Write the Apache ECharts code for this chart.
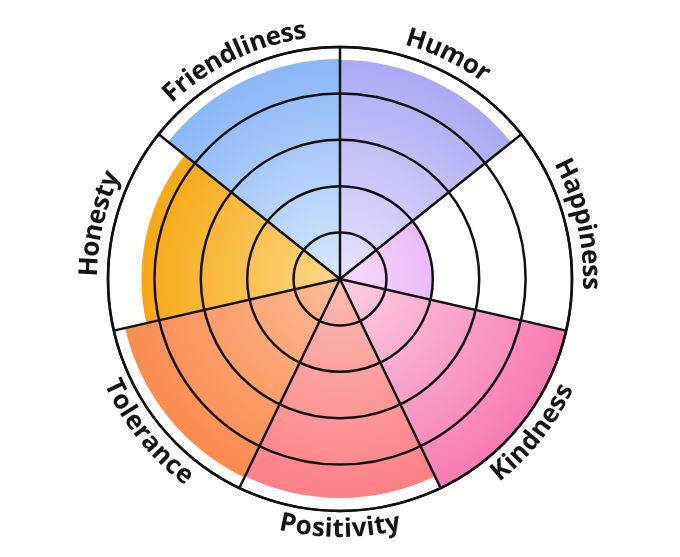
<!DOCTYPE html>
<html>
<head>
<meta charset="utf-8">
<title>Traits</title>
<script src="https://cdn.jsdelivr.net/npm/echarts@6/dist/echarts.min.js"></script>
<style>
    html, body { margin: 0; padding: 0; background: #fff; }
    #traitChart { width: 680px; height: 557px; }
</style>
</head>
<body>
<div id="traitChart"></div>
<script>
"use strict";
// categories go clockwise from 12 o'clock
var categories = ['Humor', 'Happiness', 'Kindness', 'Positivity', 'Tolerance', 'Honesty', 'Friendliness'];
var values = [4.72, 2.03, 5.0, 4.72, 4.75, 4.28, 4.74];
var ringTicks = [0, 1, 2, 3, 4, 5];
// inner / outer colour of each wedge
var innerColors = ['#e8e4fc', '#f7dcfb', '#fdd0e3', '#fcbcb2', '#fdbc96', '#fdd888', '#d9e8fc'];
var outerColors = ['#a7a5f4', '#d68af0', '#f77bb2', '#fd7c84', '#fa894a', '#f7a000', '#84b4f8'];

var cx = 340, cy = 279, outerR = 232;
var labelRadius = 5.4;

var measureCtx = document.createElement('canvas').getContext('2d');
var labelFont = 'bold 26px "Open Sans"';
measureCtx.font = labelFont;

var barData = values.map(function (v, i) {
    return {
        value: v,
        itemStyle: {
            color: new echarts.graphic.RadialGradient(cx, cy, outerR, [
                {offset: 0, color: innerColors[i]},
                {offset: 1, color: outerColors[i]}
            ], true)
        }
    };
});

var labelData = categories.map(function (c, i) {
    return [labelRadius, i];
});

function renderLabel(params, api) {
    var idx = params.dataIndex;
    var text = categories[idx];
    var c0 = api.coord([0, idx]);
    var p = api.coord([api.value(0), idx]);
    var dx = p[0] - c0[0], dy = c0[1] - p[1];
    var R = Math.sqrt(dx * dx + dy * dy);
    var phi = Math.atan2(dy, dx);
    var widths = text.split('').map(function (ch) { return measureCtx.measureText(ch).width; });
    var total = widths.reduce(function (a, b) { return a + b; }, 0);
    var span = total / R;
    var top = Math.sin(phi) > 0;
    var children = [];
    var acc = 0;
    for (var k = 0; k < text.length; k++) {
        var off = (acc + widths[k] / 2) / R;
        acc += widths[k];
        var a = top ? phi + span / 2 - off : phi - span / 2 + off;
        children.push({
            type: 'text',
            x: c0[0] + R * Math.cos(a),
            y: c0[1] - R * Math.sin(a),
            rotation: top ? a - Math.PI / 2 : a + Math.PI / 2,
            style: {
                text: text[k],
                font: labelFont,
                fill: '#151515',
                align: 'center',
                verticalAlign: 'middle'
            }
        });
    }
    return {type: 'group', children: children};
}

var chart = echarts.init(document.getElementById('traitChart'));
var option = {
    backgroundColor: '#fff',
    animation: false,
    polar: {
        center: [cx, cy],
        radius: outerR
    },
    angleAxis: {
        type: 'category',
        data: categories,
        startAngle: 90,
        clockwise: true,
        z: 10,
        axisLine: {show: true, lineStyle: {color: '#111', width: 2.5}},
        axisTick: {show: false},
        axisLabel: {show: false},
        splitLine: {show: true, lineStyle: {color: '#111', width: 2.5}}
    },
    radiusAxis: {
        type: 'value',
        min: ringTicks[0],
        max: ringTicks[ringTicks.length - 1],
        interval: 1,
        z: 10,
        axisLine: {show: false},
        axisTick: {show: false},
        axisLabel: {show: false},
        splitLine: {show: true, lineStyle: {color: '#111', width: 2.5}}
    },
    series: [
        {
            type: 'bar',
            coordinateSystem: 'polar',
            data: barData,
            barCategoryGap: '0%',
            z: 2
        },
        {
            type: 'custom',
            coordinateSystem: 'polar',
            data: labelData,
            renderItem: renderLabel,
            z: 12
        }
    ]
};
chart.setOption(option);
</script>
</body>
</html>
